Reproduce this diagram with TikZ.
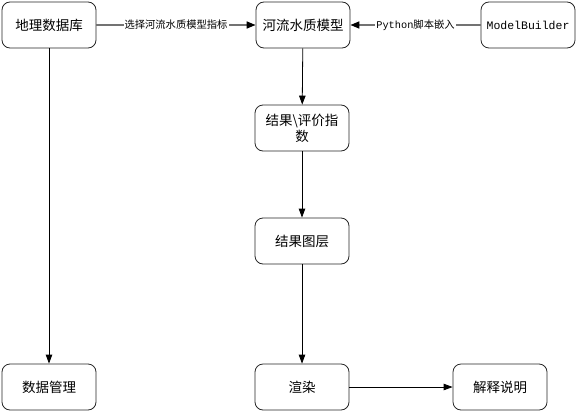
\documentclass[tikz,border=0pt]{standalone}
\usepackage{fontspec}
\setmainfont{Noto Sans CJK SC}
\setmonofont{Liberation Mono}
\usepackage{tikz}
\usetikzlibrary{arrows.meta, positioning}

\begin{document}
\begin{tikzpicture}[x=1pt, y=1pt,
		stepbox/.style={draw=black!85, line width=0.8pt, rounded corners=8pt, fill=white,
			minimum width=94pt, minimum height=46pt, align=center, font=\fontsize{13.5}{16}\selectfont},
		flow/.style={line width=0.8pt, -{Triangle[length=9pt, width=6.5pt]}},
		grayflow/.style={draw=black!55, line width=1.6pt, -{Triangle[length=9pt, width=7pt, black]}},
		edgelabel/.style={midway, fill=white, inner sep=1pt, font=\fontsize{10.3}{11}\selectfont}]
	\useasboundingbox (0,0) rectangle (577,-412);
	% boxes
	\node[stepbox] (geodb) at (49,-25) {地理数据库};
	\node[stepbox] (model) at (303,-25) {河流水质模型};
	\node[stepbox, font=\ttfamily\fontsize{11.5}{14}\selectfont] (builder) at (528,-25) {ModelBuilder};
	\node[stepbox] (index) at (302,-128) {结果\textbackslash{}评价指\\数};
	\node[stepbox] (layer) at (302,-241) {结果图层};
	\node[stepbox] (manage) at (49,-387) {数据管理};
	\node[stepbox] (render) at (302,-387) {渲染};
	\node[stepbox] (explain) at (500,-387) {解释说明};
	% connectors
	\draw[grayflow] (geodb) -- (model) node[edgelabel] {选择河流水质模型指标};
	\draw[grayflow] (builder) -- (model) node[edgelabel] {{\ttfamily Python}脚本嵌入};
	\draw[flow] (model) -- (index);
	\draw[flow] (index) -- (layer);
	\draw[flow] (layer) -- (render);
	\draw[flow] (geodb) -- (manage);
	\draw[flow] (render) -- (explain);
\end{tikzpicture}
\end{document}
